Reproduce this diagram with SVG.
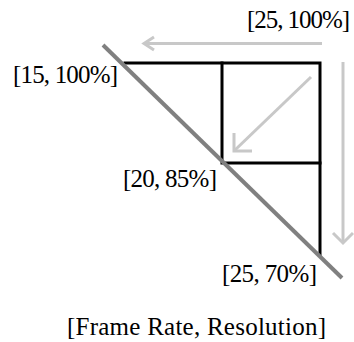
<svg xmlns="http://www.w3.org/2000/svg" width="354" height="342" viewBox="0 0 354 342">
<style>
.t{font-family:"Liberation Serif","Times New Roman",serif;font-size:25px;fill:#000}
.blk{stroke:#000;stroke-width:3;fill:none;stroke-linecap:square}
.diag{stroke:#808080;stroke-width:4;fill:none}
.arr{stroke:#c8c8c8;stroke-width:3;fill:none}
</style>
<rect width="354" height="342" fill="#fff"/>
<g id="connectors">
<path class="arr" d="M322,43.5 H144"/>
<path class="arr" d="M154,37 L144,43.5 L154,50"/>
<path class="arr" d="M343,62 V242"/>
<path class="arr" d="M333,233 L343,243 L353,233"/>
<path class="arr" d="M311,77 L235,150"/>
<path class="arr" d="M234,133 L234,151 L252,151"/>
</g>
<g id="grid">
<path class="blk" d="M125,63 H320 V255"/>
<path class="blk" d="M222,63 V163 H320"/>
</g>
<g id="frontier">
<path class="diag" d="M103,45 L342,278"/>
</g>
<g id="label-25-100"><text class="t" x="247" y="28" textLength="103">[25, 100%]</text></g>
<g id="label-15-100"><text class="t" x="13" y="83" textLength="105">[15, 100%]</text></g>
<g id="label-20-85"><text class="t" x="123" y="187" textLength="94">[20, 85%]</text></g>
<g id="label-25-70"><text class="t" x="222" y="282" textLength="95">[25, 70%]</text></g>
<g id="axis-label"><text class="t" x="67" y="335" font-size="27" textLength="259">[Frame Rate, Resolution]</text></g>
</svg>
